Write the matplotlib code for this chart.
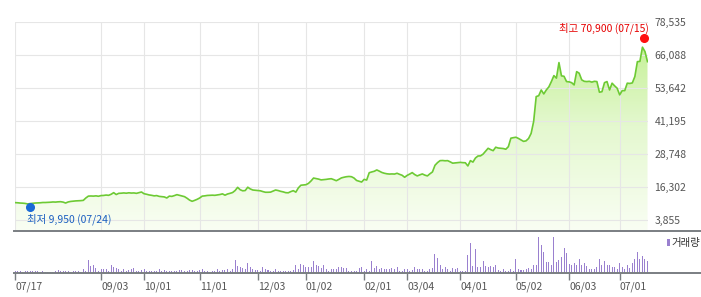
import numpy as np
import matplotlib
matplotlib.use('Agg')
import matplotlib.pyplot as plt
from matplotlib.colors import LinearSegmentedColormap
from matplotlib.lines import Line2D
from matplotlib.patches import Rectangle
import matplotlib.transforms as mtransforms

plt.rcParams['font.family'] = ['Noto Sans CJK KR', 'DejaVu Sans']

# daily close (won), 07/17 .. 07/17
close = [
    10450, 10400, 10300, 10250, 10150, 9950, 10100, 10200, 10300, 10350,
    10400, 10500, 10500, 10550, 10600, 10700, 10650, 10750, 10800, 10650,
    10300, 10700, 10900, 11000, 11100, 11150, 11200, 11300, 12200, 12900,
    12950, 12900, 13000, 12850, 13100, 13150, 13300, 13200, 13600, 14200,
    13500, 13950, 14000, 14100, 14000, 14150, 14050, 14100, 13950, 14200,
    14450, 13800, 13600, 13350, 13200, 13000, 13100, 12800, 12700, 12600,
    12200, 12900, 12800, 13100, 13450, 13200, 12950, 12700, 12100, 11400,
    10950, 11300, 11700, 12200, 12900, 13000, 13150, 13200, 13250, 13200,
    13350, 13500, 13750, 13250, 13700, 13950, 14250, 15000, 16200, 15300,
    14900, 15000, 16250, 15600, 15200, 15100, 15000, 14900, 14600, 14350,
    14350, 14400, 14800, 15200, 15000, 14700, 14500, 14200, 14150, 14600,
    14950, 14400, 16000, 17000, 17100, 17200, 17700, 18600, 19700, 19500,
    19300, 19000, 19100, 19200, 19350, 19450, 19100, 18700, 19200, 19750,
    20000, 20200, 20300, 20200, 19700, 18800, 18500, 18200, 19200, 18950,
    21700, 22000, 22250, 22750, 22300, 21800, 21500, 21300, 21200, 21250,
    21200, 21500, 21100, 20750, 20000, 20700, 21200, 21750, 21000, 20500,
    20900, 21250, 20800, 20500, 21300, 22000, 24500, 25500, 26250, 26300,
    26200, 26250, 25800, 25300, 25400, 25500, 25600, 25500, 25450, 24250,
    26250, 25700, 27250, 28000, 28050, 28700, 29800, 30900, 30400, 30000,
    31300, 31000, 30900, 30800, 30550, 31500, 34700, 34900, 35050, 34600,
    34050, 33500, 33700, 34600, 36500, 41000, 50350, 50700, 52850, 51350,
    52850, 54000, 56000, 58250, 57300, 63150, 58150, 58000, 56000, 55900,
    55600, 54750, 59750, 59150, 56650, 56100, 56000, 56100, 55800, 56100,
    56000, 52000, 52200, 55600, 56000, 52850, 55400, 54400, 53500, 51000,
    52600, 52600, 55400, 55300, 55500, 57900, 63500, 63600, 68950, 67300,
    63500,
]

# daily volume (thousand shares)
volume = [
    80, 80, 80, 60, 80, 80, 80, 80, 80, 80,
    20, 80, 20, 20, 20, 20, 80, 140, 80, 80,
    80, 80, 20, 80, 80, 80, 20, 200, 120, 740,
    400, 460, 260, 120, 200, 200, 200, 120, 440, 360,
    280, 200, 100, 200, 120, 160, 240, 280, 120, 100,
    160, 200, 80, 120, 80, 80, 120, 200, 80, 140,
    120, 80, 80, 80, 120, 140, 140, 80, 80, 140,
    140, 100, 80, 160, 200, 80, 80, 60, 120, 120,
    200, 120, 160, 160, 200, 120, 240, 740, 400, 320,
    280, 200, 600, 360, 240, 160, 160, 80, 360, 200,
    160, 120, 120, 200, 80, 120, 80, 120, 120, 120,
    160, 480, 200, 520, 480, 360, 320, 320, 720, 440,
    400, 280, 480, 200, 120, 240, 240, 200, 320, 320,
    300, 300, 120, 120, 120, 120, 300, 360, 120, 200,
    120, 680, 300, 420, 200, 300, 200, 200, 200, 260,
    200, 360, 120, 80, 240, 200, 120, 160, 360, 240,
    200, 200, 120, 120, 240, 280, 1100, 900, 480, 200,
    360, 200, 120, 260, 200, 300, 120, 120, 120, 1040,
    1800, 400, 1440, 360, 360, 680, 400, 320, 400, 320,
    440, 160, 120, 200, 120, 120, 200, 120, 840, 240,
    160, 160, 240, 300, 240, 480, 480, 2160, 1680, 1240,
    660, 660, 480, 2160, 660, 760, 960, 1500, 1200, 520,
    480, 560, 480, 840, 440, 600, 400, 240, 240, 240,
    320, 840, 440, 720, 440, 440, 360, 360, 240, 560,
    360, 200, 480, 280, 560, 800, 1240, 800, 1000, 800,
    680,
]

tick_pos = [0, 34, 51, 73, 96, 115, 138, 155, 176, 198, 219, 239]
tick_labels = ['07/17', '09/03', '10/01', '11/01', '12/03', '01/02',
               '02/01', '03/04', '04/01', '05/02', '06/03', '07/01']
price_ticks = [3855, 16302, 28748, 41195, 53642, 66088, 78535]

hi_idx, hi_val, hi_date = 248, 70900, '07/15'
lo_idx, lo_val, lo_date = 5, 9950, '07/24'

W, H = 701, 297
fig = plt.figure(figsize=(W / 100, H / 100), dpi=100)


def box(l, t, r, b):
    return [l / W, 1 - b / H, (r - l) / W, (b - t) / H]


x = np.arange(len(close))

# price panel
ax = fig.add_axes(box(15, 21.7, 647.5, 230.4))
cmap = LinearSegmentedColormap.from_list('g', ['#f9fef3', '#e4f8cf', '#bdef88'])
grad = np.linspace(0, 1, 256).reshape(-1, 1)
im = ax.imshow(grad, extent=[0, len(close) - 1, 0, price_ticks[-1]],
               origin='lower', aspect='auto', cmap=cmap, zorder=1)
poly = ax.fill_between(x, close, 0, color='none', lw=0)
im.set_clip_path(poly.get_paths()[0], transform=ax.transData)
ax.plot(x, close, color='#6dca34', lw=1.2, zorder=3)

ax.set_xlim(0, len(close) - 1)
ax.set_ylim(0, price_ticks[-1])
ax.set_xticks(tick_pos)
ax.set_yticks(price_ticks)
ax.set_yticklabels([f'{v:,}' for v in price_ticks])
ax.yaxis.tick_right()
ax.tick_params(axis='x', length=0, labelbottom=False)
ax.tick_params(axis='y', length=0, pad=5, labelsize=7.5, labelcolor='#555555')
ax.set_axisbelow(False)
ax.grid(color='#e6e6e6', lw=0.8, zorder=2)
for s in ax.spines.values():
    s.set_visible(False)

# max / min markers
off_hi = mtransforms.offset_copy(ax.transData, fig=fig, x=2, y=3.5, units='dots')
off_lo = mtransforms.offset_copy(ax.transData, fig=fig, x=2, y=-3.5, units='dots')
ax.plot(hi_idx, hi_val, 'o', color='#ff1010', ms=5.5, transform=off_hi, zorder=4, clip_on=False)
ax.plot(lo_idx, lo_val, 'o', color='#1a6ad6', ms=5.5, transform=off_lo, zorder=4, clip_on=False)
ax.annotate(f'최고 {hi_val:,} ({hi_date})', xy=(hi_idx, hi_val), xytext=(6, 14),
            textcoords='offset pixels', ha='right', va='center',
            fontsize=7.5, color='#e60000', zorder=5)
ax.annotate(f'최저 {lo_val:,} ({lo_date})', xy=(lo_idx, lo_val), xytext=(-1, -15),
            textcoords='offset pixels', ha='left', va='center',
            fontsize=7.5, color='#1a5fc0', zorder=5)

# volume panel
axv = fig.add_axes(box(15, 231, 647.5, 272.7))
axv.bar(x, volume, width=0.4, color='#9a80cf', lw=0, antialiased=False)
axv.set_xlim(0, len(close) - 1)
axv.set_ylim(0, 2500)
axv.set_yticks([])
axv.set_xticks(tick_pos)
axv.set_xticklabels(tick_labels)
axv.tick_params(axis='x', length=5, width=1, color='#7a7e82', pad=1.5,
                labelsize=7.5, labelcolor='#555555')
for lab in axv.get_xticklabels():
    lab.set_ha('left')
for s in axv.spines.values():
    s.set_visible(False)

# separating lines
for yy in (230.6, 272.9):
    fig.add_artist(Line2D([14 / W, 1], [1 - yy / H, 1 - yy / H],
                          transform=fig.transFigure, color='#7a7e82', lw=1.4))

# volume legend
fig.add_artist(Rectangle((666.5 / W, 1 - 246 / H), 3 / W, 7 / H,
                         transform=fig.transFigure, color='#9a80cf', lw=0))
fig.text(671.5 / W, 1 - 243 / H, '거래량', fontsize=7.5, color='#333333',
         ha='left', va='center')

fig.savefig('out.png', dpi=100)
